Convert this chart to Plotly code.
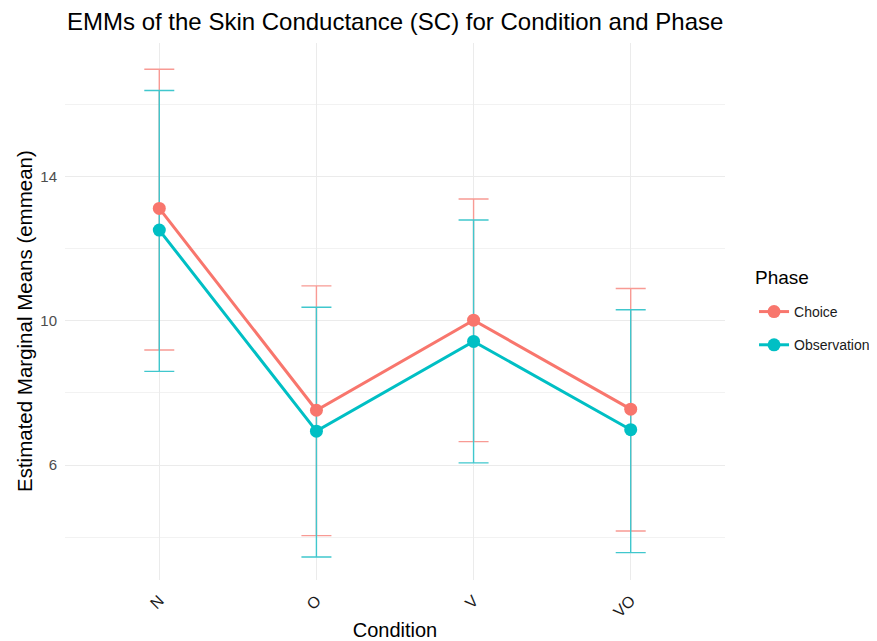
import plotly.graph_objects as go

conditions = ["N", "O", "V", "VO"]
choice_mean = [13.12, 7.52, 10.02, 7.55]
choice_upper = [16.98, 10.97, 13.38, 10.90]
choice_lower = [9.19, 4.04, 6.65, 4.17]
obs_mean = [12.52, 6.94, 9.43, 6.98]
obs_upper = [16.39, 10.38, 12.80, 10.31]
obs_lower = [8.60, 3.45, 6.06, 3.57]

series = [
    ("Choice", choice_mean, choice_upper, choice_lower, "#F8766D", "#F89A94"),
    ("Observation", obs_mean, obs_upper, obs_lower, "#00BFC4", "#40C7CD"),
]

fig = go.Figure()
for name, m, up, lo, col, ecol in series:
    fig.add_trace(go.Scatter(
        x=conditions, y=m, mode="markers", showlegend=False, hoverinfo="skip",
        marker=dict(size=1, opacity=0),
        error_y=dict(type="data", symmetric=False,
                     array=[u - v for u, v in zip(up, m)],
                     arrayminus=[v - l for v, l in zip(m, lo)],
                     color=ecol, thickness=1.4, width=15),
    ))
for name, m, up, lo, col, ecol in series:
    fig.add_trace(go.Scatter(
        x=conditions, y=m, mode="lines+markers", name=name, legendgroup=name,
        line=dict(color=col, width=3), marker=dict(color=col, size=13),
    ))

W, H = 869, 633
grid = "#EBEBEB"
fig.update_layout(
    width=W, height=H,
    plot_bgcolor="white", paper_bgcolor="white",
    font=dict(family="Liberation Sans, Arial, sans-serif", color="black"),
    margin=dict(l=57, r=152, t=35, b=61, autoexpand=False),
    title=dict(text="EMMs of the Skin Conductance (SC) for Condition and Phase",
               x=59/W, xanchor="left", y=1-14/H, yanchor="middle",
               font=dict(size=24, color="black")),
    legend=dict(x=1.044, xanchor="left", y=0.5289, yanchor="top",
                font=dict(size=14, color="#1a1a1a"), tracegroupgap=12,
                itemwidth=30),
    showlegend=True,
    annotations=[
        dict(text="Phase", xref="paper", yref="paper",
             x=1.0424, xanchor="left", y=(572-269)/537, yanchor="middle",
             showarrow=False, font=dict(size=19, color="black")),
        dict(text="Estimated Marginal Means (emmean)", xref="paper", yref="paper",
             x=(16-57)/660, xanchor="center", y=(572-313)/537, yanchor="middle",
             textangle=-90, showarrow=False, font=dict(size=20.5, color="black")),
    ],
)
fig.update_xaxes(
    type="category", range=[-0.6, 3.6], automargin=False,
    showgrid=True, gridcolor=grid, gridwidth=1.2,
    tickangle=-45, tickfont=dict(size=16, color="#1a1a1a"),
    ticks="outside", ticklen=4, tickcolor="rgba(0,0,0,0)",
    title=dict(text="Condition", font=dict(size=20, color="black"), standoff=8),
    zeroline=False, showline=False,
)
fig.update_yaxes(
    range=[2.81, 17.71], tickvals=[6, 10, 14], automargin=False,
    showgrid=True, gridcolor=grid, gridwidth=1.2,
    minor=dict(tickvals=[4, 8, 12, 16], showgrid=True, gridcolor="#F2F2F2", gridwidth=1),
    tickfont=dict(size=15, color="#4D4D4D"),
    ticks="outside", ticklen=4, tickcolor="rgba(0,0,0,0)",
    zeroline=False, showline=False,
)

fig.write_html("out.html")
